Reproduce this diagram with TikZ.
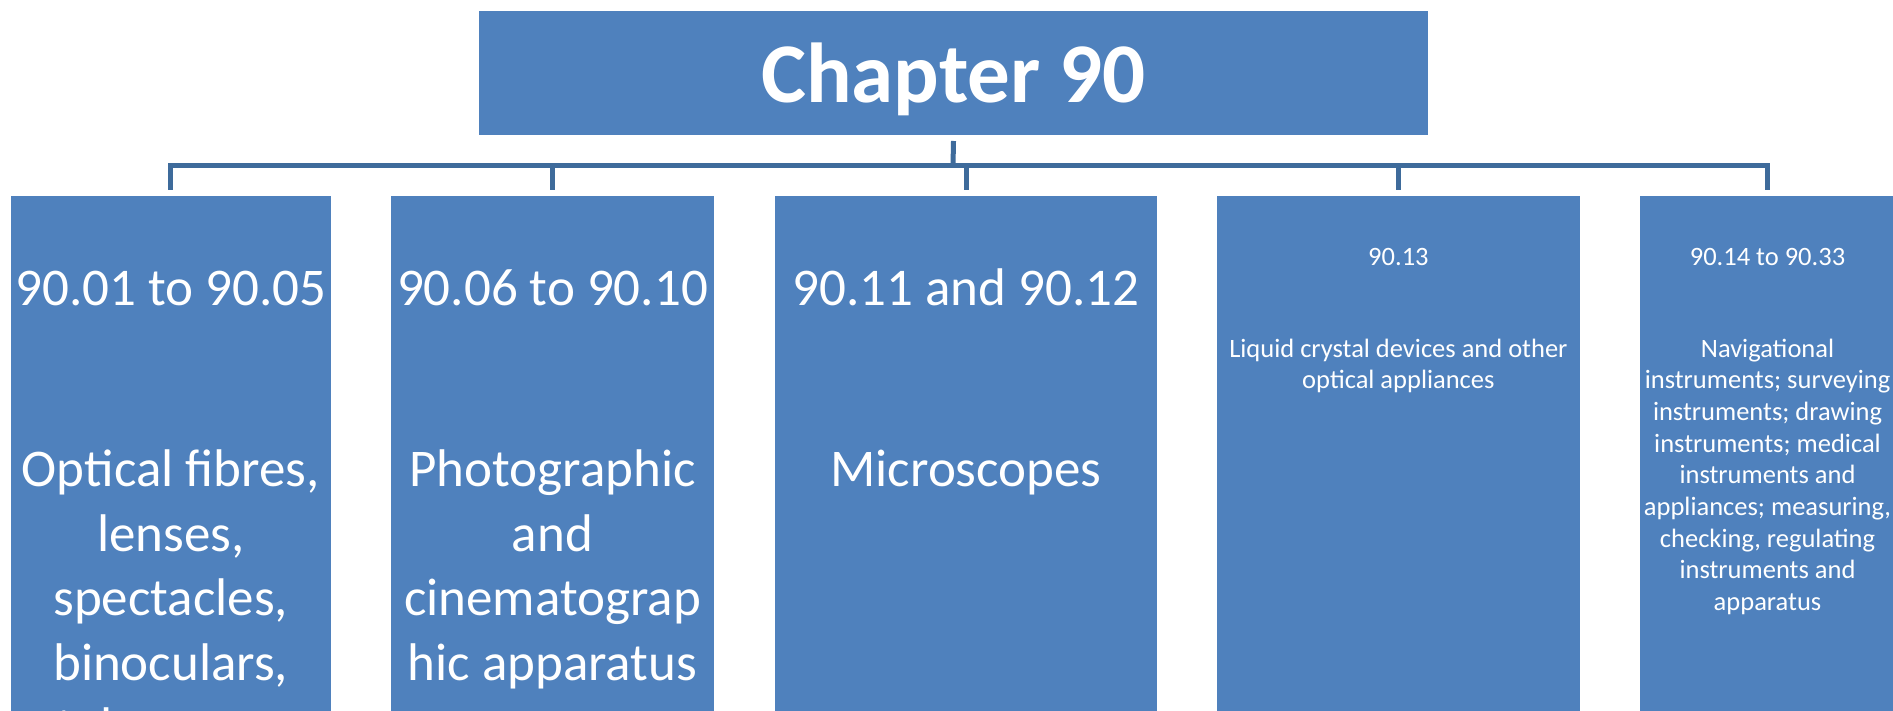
\documentclass[tikz,border=0pt]{standalone}
\usepackage{fontspec}
\setmainfont{Carlito}
\definecolor{boxblue}{HTML}{4F81BD}
\definecolor{lineblue}{HTML}{3E6B9B}
\begin{document}
\begin{tikzpicture}[x=1pt,y=-1pt,
  box/.style={draw=none, fill=boxblue, inner sep=0pt, outer sep=0pt, anchor=north west},
  bigtext/.style={text=white, font=\fontsize{53}{64.5}\selectfont, align=center, anchor=base, inner sep=0pt},
  smalltext/.style={text=white, font=\fontsize{26.5}{31.7}\selectfont, align=center, anchor=base, inner sep=0pt},
  conn/.style={draw=lineblue, line width=5pt}]
\useasboundingbox (0,0) rectangle (1893,711);
\clip (0,0) rectangle (1893,711);
\fill[white] (0,0) rectangle (1893,711);
% parent
\node[box, minimum width=949pt, minimum height=124pt] (top) at (479,11) {};
\node[text=white, font=\bfseries\fontsize{85}{100}\selectfont, anchor=base, inner sep=0pt] (title) at (953.5,102.7) {Chapter 90};
% children
\node[box, minimum width=319.5pt, minimum height=530pt] (c1) at (11,195.7) {};
\node[box, minimum width=323.6pt, minimum height=530pt] (c2) at (390.7,195.7) {};
\node[box, minimum width=382pt, minimum height=530pt] (c3) at (775,195.7) {};
\node[box, minimum width=363.2pt, minimum height=530pt] (c4) at (1216.8,195.7) {};
\node[box, minimum width=254.6pt, minimum height=530pt] (c5) at (1640.2,195.7) {};
% headings
\node[bigtext] (h1) at (170.75,306) {90.01 to 90.05};
\node[bigtext] (h2) at (552.5,306) {90.06 to 90.10};
\node[bigtext] (h3) at (966,306) {90.11 and 90.12};
\node[smalltext] (h4) at (1398.4,265.4) {90.13};
\node[smalltext] (h5) at (1767.5,265.4) {90.14 to 90.33};
% descriptions (base anchor = baseline of the last line)
\node[bigtext] (b1) at (170.75,744.5) {Optical fibres,\\lenses,\\spectacles,\\binoculars,\\telescopes};
\node[bigtext] (b2) at (552.5,680) {Photographic\\and\\cinematograp\\hic apparatus};
\node[bigtext] (b3) at (966,486.5) {Microscopes};
\node[smalltext] (b4) at (1398.4,388.7) {Liquid crystal devices and other\\optical appliances};
\node[smalltext] (b5) at (1767.5,610.6) {Navigational\\instruments; surveying\\instruments; drawing\\instruments; medical\\instruments and\\appliances; measuring,\\checking, regulating\\instruments and\\apparatus};
% connectors
\coordinate (hub) at (953,165.5);
\draw[conn] ([yshift=-6pt]top.south) -- (hub);
\foreach \c in {c1,c2,c3,c4,c5} \draw[conn] (hub) -| ([yshift=5.2pt]\c.north);
\end{tikzpicture}
\end{document}
